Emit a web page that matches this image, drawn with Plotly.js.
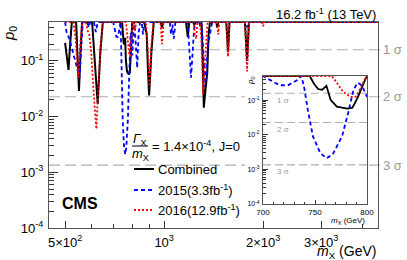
<!DOCTYPE html>
<html><head><meta charset="utf-8">
<script src="https://cdn.plot.ly/plotly-3.0.1.min.js"></script>
<style>html,body{margin:0;padding:0;background:#fff}#c{width:407px;height:260px}</style>
</head><body><div id="c"></div>
<script>
// ---- data ----
const massComb = [500,505,512,518,524,540,546,551,557,563,604,615,628,640,651,745,749,753,757,761,765,771,781,786,791,798,800,870,878,885,892,900,915,930,975,985,995,1165,1180,1192,1225,1235,1250,1280,1290,1300,1310,1320,1335,1352,1365,1378,1440,1450,1460,1545,1564,1580,1760,1787,1810,4500];
const pComb    = [0.21,0.12,0.069,0.2,0.5,0.5,0.12,0.029,0.15,0.5,0.5,0.1,0.017,0.15,0.5,0.5,0.3,0.21,0.2,0.26,0.103,0.065,0.057,0.061,0.118,0.38,0.5,0.5,0.35,0.3,0.08,0.024,0.15,0.5,0.5,0.4,0.5,0.5,0.27,0.5,0.5,0.45,0.5,0.5,0.42,0.45,0.1,0.0145,0.03,0.06,0.3,0.5,0.5,0.4,0.5,0.5,0.145,0.5,0.5,0.1,0.5,0.5];

const mass2015 = [500,505,515,528,542,553,560,566,584,590,596,612,620,628,700,707,716,724,733,737,740,743,748,755,761,767,776,782,787,791,795,800,806,812,820,828,836,845,855,862,870,1040,1050,1060,1070,1082,1170,1180,1207,1233,1245,1300,1315,1332,1360,1390,1400,1770,1787,1800,4500];
const p2015    = [0.5,0.33,0.25,0.15,0.08,0.05,0.15,0.5,0.5,0.4,0.5,0.5,0.33,0.5,0.5,0.38,0.27,0.27,0.38,0.5,0.2,0.054,0.009,0.003,0.0021,0.0027,0.009,0.044,0.2,0.32,0.27,0.125,0.3,0.45,0.2,0.075,0.3,0.5,0.5,0.3,0.5,0.5,0.3,0.45,0.25,0.5,0.5,0.45,0.05,0.37,0.5,0.5,0.15,0.034,0.2,0.46,0.5,0.5,0.4,0.5,0.5];

const mass2016 = [500,530,538,548,556,564,578,585,592,600,610,622,632,642,652,766,771,777,784,789,793,799,801,810,816,822,880,890,903,915,928,975,985,995,1230,1240,1252,1262,1285,1297,1305,1314,1325,1340,1355,1445,1460,1472,1545,1564,1582,1760,1787,1812,1985,2000,2015,4500];
const p2016    = [0.5,0.5,0.25,0.05,0.2,0.5,0.5,0.35,0.3,0.15,0.03,0.006,0.04,0.2,0.5,0.5,0.32,0.175,0.125,0.125,0.2,0.47,0.5,0.5,0.35,0.5,0.5,0.2,0.035,0.2,0.5,0.5,0.2,0.5,0.5,0.3,0.25,0.5,0.5,0.25,0.07,0.025,0.06,0.22,0.5,0.5,0.3,0.5,0.5,0.12,0.5,0.5,0.065,0.5,0.5,0.42,0.5,0.5];

const seriesNames = ["Combined", "2015(3.3fb<sup>-1</sup>)", "2016(12.9fb<sup>-1</sup>)"];
const sigmaP = [0.1587, 0.02275, 0.00135];
const sigmaLabels = ["1 \u03c3", "2 \u03c3", "3 \u03c3"];
const xTickVals = [500, 1000, 2000, 3000];
const xTickText = ["5\u00d710<sup>2</sup>", "10<sup>3</sup>", "2\u00d710<sup>3</sup>", "3\u00d710<sup>3</sup>"];
const yTickVals = [1e-4, 1e-3, 1e-2, 1e-1];
const yTickText = ["10<sup>-4</sup>", "10<sup>-3</sup>", "10<sup>-2</sup>", "10<sup>-1</sup>"];
const insetTickVals = [700, 750, 800];

// ---- styles ----
const FONT = "Liberation Sans, Arial, Helvetica, sans-serif";
const styles = [
  {color: "#000000", width: 2, dash: "solid"},
  {color: "#0000ff", width: 1.8, dash: "4px,3px"},
  {color: "#ff0000", width: 1.8, dash: "2px,2px"}
];
const sets = [[massComb, pComb], [mass2015, p2015], [mass2016, p2016]];

const yMinor = [];
for (let d = -4; d <= -1; d++) for (let k = 2; k <= 9; k++) { const v = k * Math.pow(10, d); if (v <= 0.5) yMinor.push(v); }
const insetXMinor = [];
for (let v = 710; v < 800; v += 10) if (v !== 750) insetXMinor.push(v);

const traces = [];
sets.forEach((s, i) => traces.push({x: s[0], y: s[1], type: "scatter", mode: "lines", line: styles[i], xaxis: "x", yaxis: "y", showlegend: false, hoverinfo: "skip"}));
sets.forEach((s, i) => traces.push({x: s[0], y: s[1], type: "scatter", mode: "lines", line: Object.assign({}, styles[i], {width: 1.8}), xaxis: "x2", yaxis: "y2", showlegend: false, hoverinfo: "skip"}));

const L = 49, T = 22, W = 329, H = 206;
const px = v => (v - L) / W, py = v => (T + H - v) / H;

const shapes = [];
const annotations = [];
// main sigma lines
sigmaP.forEach((p, i) => {
  shapes.push({type: "line", layer: "below", xref: "paper", yref: "y", x0: 0, x1: 1.008, y0: p, y1: p, line: {color: "#b0b0b0", width: 1.2, dash: "11px,5px"}});
  annotations.push({xref: "paper", yref: "y", x: 1.01, y: Math.log10(p), text: sigmaLabels[i], showarrow: false, xanchor: "left", yanchor: "middle", font: {family: FONT, size: 13, color: "#999999"}});
});
// white area behind inset labels
shapes.push({type: "rect", layer: "below", xref: "paper", yref: "paper", x0: px(245), x1: px(368), y0: py(225), y1: py(72), line: {width: 0}, fillcolor: "#ffffff"});
// inset sigma lines
sigmaP.forEach((p, i) => {
  shapes.push({type: "line", layer: "below", xref: "x2", yref: "y2", x0: 700, x1: 800, y0: p, y1: p, line: {color: "#b0b0b0", width: 1.1, dash: "8px,4px"}});
  annotations.push({xref: "x2", yref: "y2", x: 712, y: Math.log10(p) - 0.2, text: sigmaLabels[i], showarrow: false, xanchor: "left", yanchor: "middle", font: {family: FONT, size: 8, color: "#999999"}});
});
// legend (manual)
const rowsY = [169, 190, 210];
seriesNames.forEach((n, i) => {
  shapes.push({type: "line", xref: "paper", yref: "paper", x0: px(134), x1: px(154), y0: py(rowsY[i]), y1: py(rowsY[i]), line: styles[i]});
  annotations.push({xref: "paper", yref: "paper", x: px(156), y: py(rowsY[i]), text: n, showarrow: false, xanchor: "left", yanchor: "middle", font: {family: FONT, size: 13, color: "#000"}});
});
// fraction
shapes.push({type: "line", xref: "paper", yref: "paper", x0: px(132), x1: px(148), y0: py(146), y1: py(146), line: {color: "#000", width: 1}});
annotations.push({xref: "paper", yref: "paper", x: px(140), y: py(139), text: "<i>\u0393</i><sub>X</sub>", showarrow: false, xanchor: "center", yanchor: "middle", font: {family: FONT, size: 13, color: "#000"}});
annotations.push({xref: "paper", yref: "paper", x: px(140), y: py(154), text: "<i>m</i><sub>X</sub>", showarrow: false, xanchor: "center", yanchor: "middle", font: {family: FONT, size: 13, color: "#000"}});
annotations.push({xref: "paper", yref: "paper", x: px(150), y: py(146), text: "= 1.4\u00d710<sup>-4</sup>, J=0", showarrow: false, xanchor: "left", yanchor: "middle", font: {family: FONT, size: 13, color: "#000"}});
// CMS
annotations.push({xref: "paper", yref: "paper", x: px(80), y: py(203), text: "<b>CMS</b>", showarrow: false, xanchor: "center", yanchor: "middle", font: {family: FONT, size: 16, color: "#000"}});
// top text
annotations.push({xref: "paper", yref: "paper", x: 1, y: py(14), text: "16.2 fb<sup>-1</sup> (13 TeV)", showarrow: false, xanchor: "right", yanchor: "middle", font: {family: FONT, size: 13, color: "#000"}});
// axis titles
annotations.push({xref: "paper", yref: "paper", x: px(10), y: py(34), text: "<i>p</i><sub>0</sub>", textangle: -90, showarrow: false, xanchor: "center", yanchor: "middle", font: {family: FONT, size: 15, color: "#000"}});
annotations.push({xref: "paper", yref: "paper", x: 1, y: py(252), text: "<i>m</i><sub>X</sub> (GeV)", showarrow: false, xanchor: "right", yanchor: "middle", font: {family: FONT, size: 14, color: "#000"}});
annotations.push({xref: "paper", yref: "paper", x: px(251), y: py(81), text: "<i>p</i><sub>0</sub>", textangle: -90, showarrow: false, xanchor: "center", yanchor: "middle", font: {family: FONT, size: 8, color: "#000"}});
annotations.push({xref: "paper", yref: "paper", x: px(367), y: py(221), text: "<i>m</i><sub>X</sub> (GeV)", showarrow: false, xanchor: "right", yanchor: "middle", font: {family: FONT, size: 8, color: "#000"}});

const axisCommon = {showgrid: false, zeroline: false, showline: true, mirror: true, linecolor: "#555", linewidth: 1, ticks: "inside", tickcolor: "#333", tickwidth: 1, fixedrange: true};

const layout = {
  width: 407, height: 260,
  margin: {l: L, r: 407 - L - W, t: T, b: 260 - T - H, pad: 0},
  paper_bgcolor: "#fff", plot_bgcolor: "#fff",
  showlegend: false,
  font: {family: FONT, size: 13, color: "#000"},
  xaxis: Object.assign({}, axisCommon, {type: "log", range: [2.65, 3.65], tickmode: "array", tickvals: xTickVals, ticktext: xTickText, ticklen: 7, ticklabelstandoff: 2, tickfont: {family: FONT, size: 13},
    minor: {tickvals: [600, 700, 800, 900, 4000], ticks: "inside", ticklen: 4, tickcolor: "#333"}}),
  yaxis: Object.assign({}, axisCommon, {type: "log", range: [-4, Math.log10(0.5)], tickmode: "array", tickvals: yTickVals, ticktext: yTickText, ticklen: 9, ticklabelstandoff: 2, tickfont: {family: FONT, size: 13},
    minor: {tickvals: yMinor, ticks: "inside", ticklen: 5, tickcolor: "#333"}}),
  xaxis2: Object.assign({}, axisCommon, {anchor: "y2", domain: [px(263), px(367)], range: [700, 800], tickmode: "array", tickvals: insetTickVals, ticklen: 4, ticklabelstandoff: 0, tickfont: {family: FONT, size: 8},
    minor: {tickvals: insetXMinor, ticks: "inside", ticklen: 2.5, tickcolor: "#333"}}),
  yaxis2: Object.assign({}, axisCommon, {anchor: "x2", type: "log", domain: [py(204), py(76)], range: [-4, Math.log10(0.5)], tickmode: "array", tickvals: yTickVals, ticktext: yTickText, ticklen: 5, ticklabelstandoff: 1, tickfont: {family: FONT, size: 7},
    minor: {tickvals: yMinor, ticks: "inside", ticklen: 2.5, tickcolor: "#333"}}),
  shapes: shapes,
  annotations: annotations
};

Plotly.newPlot("c", traces, layout, {staticPlot: true, displayModeBar: false});
</script>
</body></html>
